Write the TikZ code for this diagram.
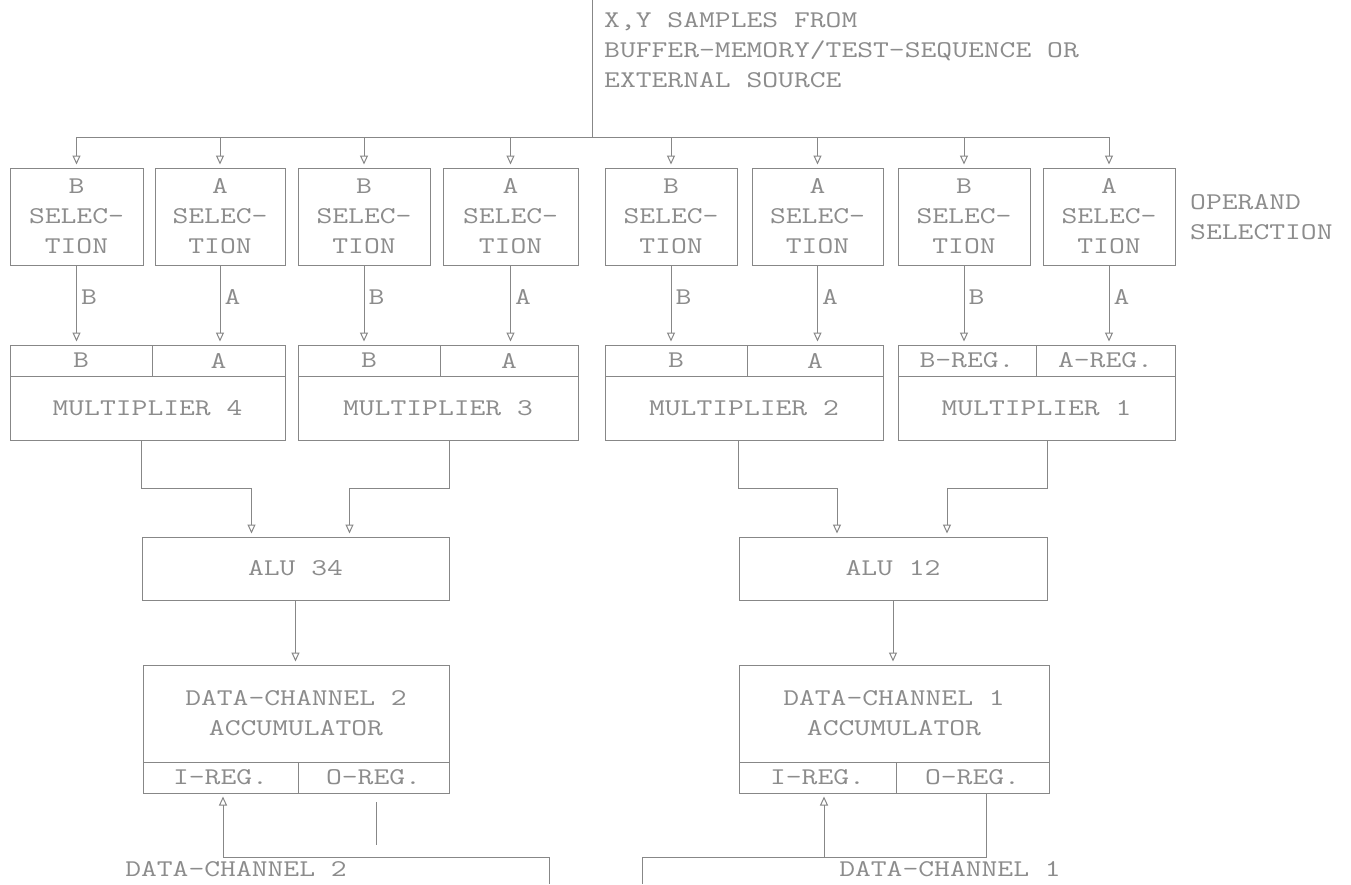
\documentclass[tikz,border=0pt]{standalone}
\usepackage{fontspec}
\setmonofont[FakeStretch=1.28]{Latin Modern Mono}
\usetikzlibrary{arrows.meta}
\definecolor{linec}{RGB}{135,135,135}
\definecolor{txtc}{RGB}{140,140,140}
\begin{document}
\begin{tikzpicture}[x=1pt,y=-1pt,
  every node/.style={font=\ttfamily\fontsize{24}{30}\selectfont, text=txtc},
  box/.style={draw=linec, line width=1pt, inner sep=0pt, align=center},
  sel/.style={box, minimum height=97pt},
  reg/.style={box, minimum height=31pt},
  mul/.style={box, minimum height=64pt},
  alu/.style={box, minimum height=63pt},
  acc/.style={box, minimum height=97pt},
  wire/.style={draw=linec, line width=1pt},
  arr/.style={wire, -{Triangle[open,length=9pt,width=8pt]}, shorten >=3pt},
  lbl/.style={anchor=west, inner sep=4pt},
  plain/.style={inner sep=0pt, align=left}]
\path[use as bounding box, fill=white] (0,0) rectangle (1351,884);

% source text
\coordinate (srctop) at (592,0);
\coordinate (srcbus) at (592,137);
\node[plain, anchor=north west] (src) at (604,12) {X,Y SAMPLES FROM\\BUFFER-MEMORY/TEST-SEQUENCE OR\\EXTERNAL SOURCE};
\draw[wire] (srctop) -- (srcbus);

% operand selection boxes
\node[sel, minimum width=133pt] (S1) at (76.5,216.5) {B\\SELEC-\\TION};
\node[sel, minimum width=130pt] (S2) at (220,216.5) {A\\SELEC-\\TION};
\node[sel, minimum width=132pt] (S3) at (364,216.5) {B\\SELEC-\\TION};
\node[sel, minimum width=135pt] (S4) at (510.5,216.5) {A\\SELEC-\\TION};
\node[sel, minimum width=132pt] (S5) at (671,216.5) {B\\SELEC-\\TION};
\node[sel, minimum width=131pt] (S6) at (817.5,216.5) {A\\SELEC-\\TION};
\node[sel, minimum width=132pt] (S7) at (964,216.5) {B\\SELEC-\\TION};
\node[sel, minimum width=132pt] (S8) at (1109,216.5) {A\\SELEC-\\TION};
\node[plain, anchor=west] (opsel) at (1190,217) {OPERAND\\SELECTION};

% bus
\draw[wire] (S1.north |- srcbus) -- (S8.north |- srcbus);
\foreach \i in {1,...,8} {\draw[arr] (S\i.north |- srcbus) -- (S\i.north);}

% multipliers
\node[reg, minimum width=142pt] (R4B) at (81,360.5) {B};
\node[reg, minimum width=133pt] (R4A) at (218.5,360.5) {A};
\node[reg, minimum width=142pt] (R3B) at (369,360.5) {B};
\node[reg, minimum width=138pt] (R3A) at (509,360.5) {A};
\node[reg, minimum width=142pt] (R2B) at (676,360.5) {B};
\node[reg, minimum width=136pt] (R2A) at (815,360.5) {A};
\node[reg, minimum width=138pt] (R1B) at (967,360.5) {B-REG.};
\node[reg, minimum width=139pt] (R1A) at (1105.5,360.5) {A-REG.};
\node[mul, minimum width=275pt] (M4) at (147.5,408) {MULTIPLIER 4};
\node[mul, minimum width=280pt] (M3) at (438,408) {MULTIPLIER 3};
\node[mul, minimum width=278pt] (M2) at (744,408) {MULTIPLIER 2};
\node[mul, minimum width=277pt] (M1) at (1036.5,408) {MULTIPLIER 1};

% selection -> multiplier registers
\draw[arr] (S1.south) -- (S1.south |- R4B.north) node[lbl, pos=0.4] {B};
\draw[arr] (S2.south) -- (S2.south |- R4A.north) node[lbl, pos=0.4] {A};
\draw[arr] (S3.south) -- (S3.south |- R3B.north) node[lbl, pos=0.4] {B};
\draw[arr] (S4.south) -- (S4.south |- R3A.north) node[lbl, pos=0.4] {A};
\draw[arr] (S5.south) -- (S5.south |- R2B.north) node[lbl, pos=0.4] {B};
\draw[arr] (S6.south) -- (S6.south |- R2A.north) node[lbl, pos=0.4] {A};
\draw[arr] (S7.south) -- (S7.south |- R1B.north) node[lbl, pos=0.4] {B};
\draw[arr] (S8.south) -- (S8.south |- R1A.north) node[lbl, pos=0.4] {A};

% ALUs
\node[alu, minimum width=307pt] (A34) at (295.5,568.5) {ALU 34};
\node[alu, minimum width=308pt] (A12) at (893,568.5) {ALU 12};

\draw[arr] (A34.west |- M4.south) -- (A34.west |- 0,488) -| ([xshift=-44pt]A34.north);
\draw[arr] (A34.east |- M3.south) -- (A34.east |- 0,488) -| ([xshift=54pt]A34.north);
\draw[arr] (A12.west |- M2.south) -- (A12.west |- 0,488) -| ([xshift=-56pt]A12.north);
\draw[arr] (A12.east |- M1.south) -- (A12.east |- 0,488) -| ([xshift=54pt]A12.north);

% accumulators
\node[acc, minimum width=306pt] (D2) at (296,713.5) {DATA-CHANNEL 2\\ACCUMULATOR};
\node[reg, minimum width=155pt] (D2I) at (220.5,777.5) {I-REG.};
\node[reg, minimum width=151pt] (D2O) at (373.5,777.5) {O-REG.};
\node[acc, minimum width=310pt] (D1) at (894,713.5) {DATA-CHANNEL 1\\ACCUMULATOR};
\node[reg, minimum width=157pt] (D1I) at (817.5,777.5) {I-REG.};
\node[reg, minimum width=153pt] (D1O) at (972.5,777.5) {O-REG.};

\draw[arr] (A34.south) -- (A34.south |- D2.north);
\draw[arr] (A12.south) -- (A12.south |- D1.north);

% bottom connections
\coordinate (j2) at (223,857);
\coordinate (c2) at (549,857);
\coordinate (e2) at (549,884);
\coordinate (o2) at (376,845);
\coordinate (o2top) at (376,802);
\draw[arr] (j2) -- (j2 |- D2I.south);
\draw[wire] (j2) -- (c2) -- (e2);
\draw[wire] (o2top) -- (o2);

\coordinate (j1) at (824,857);
\coordinate (o1) at (986,857);
\coordinate (c1) at (642,857);
\coordinate (e1) at (642,884);
\draw[arr] (j1) -- (j1 |- D1I.south);
\draw[wire] (o1 |- D1O.south) -- (o1) -- (c1) -- (e1);

\node[inner sep=0pt, anchor=base] (bt2) at (236,876) {DATA-CHANNEL 2};
\node[inner sep=0pt, anchor=base] (bt1) at (950,876) {DATA-CHANNEL 1};
\end{tikzpicture}
\end{document}
